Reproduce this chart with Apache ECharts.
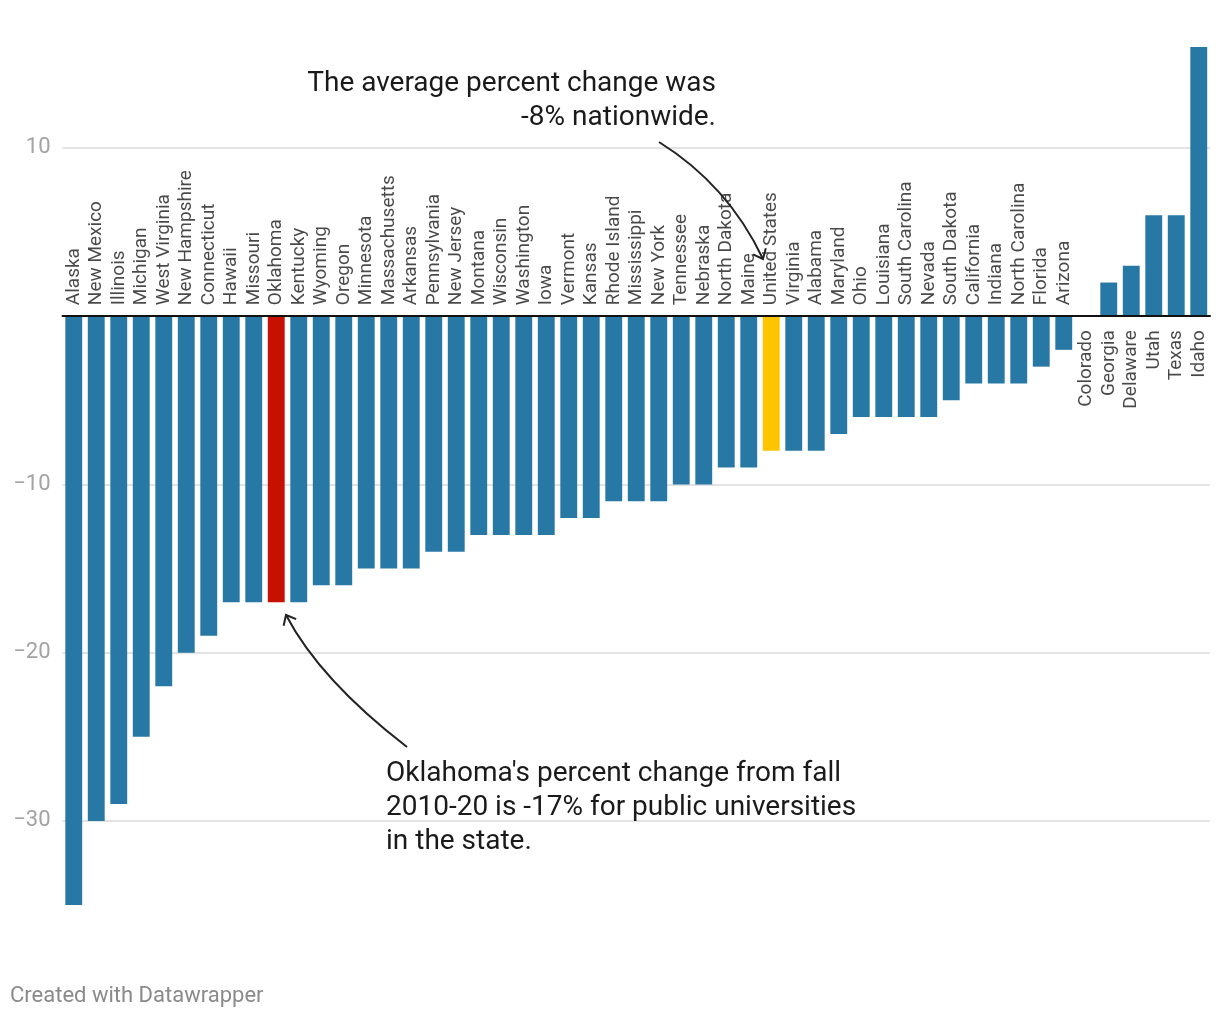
<!DOCTYPE html>
<html>
<head>
<meta charset="utf-8">
<script src="https://cdn.jsdelivr.net/npm/echarts@6/dist/echarts.min.js"></script>
<style>
  html, body { margin: 0; padding: 0; background: #ffffff; }
  #chart { width: 1220px; height: 1020px; }
</style>
</head>
<body>
<div id="chart"></div>
<script>
const categories = ['Alaska','New Mexico','Illinois','Michigan','West Virginia','New Hampshire','Connecticut','Hawaii','Missouri','Oklahoma','Kentucky','Wyoming','Oregon','Minnesota','Massachusetts','Arkansas','Pennsylvania','New Jersey','Montana','Wisconsin','Washington','Iowa','Vermont','Kansas','Rhode Island','Mississippi','New York','Tennessee','Nebraska','North Dakota','Maine','United States','Virginia','Alabama','Maryland','Ohio','Louisiana','South Carolina','Nevada','South Dakota','California','Indiana','North Carolina','Florida','Arizona','Colorado','Georgia','Delaware','Utah','Texas','Idaho'];
const values = [-35,-30,-29,-25,-22,-20,-19,-17,-17,-17,-17,-16,-16,-15,-15,-15,-14,-14,-13,-13,-13,-13,-12,-12,-11,-11,-11,-10,-10,-9,-9,-8,-8,-8,-7,-6,-6,-6,-6,-5,-4,-4,-4,-3,-2,0,2,3,6,6,16];
const yTicks = [10, -10, -20, -30];
const redCategory = 'Oklahoma';
const yellowCategory = 'United States';

const BLUE = '#2878a5', RED = '#c81000', YELLOW = '#ffc400';
const FONT = 'Roboto';

const barData = values.map((v, i) => ({
  value: v,
  itemStyle: { color: categories[i] === redCategory ? RED : (categories[i] === yellowCategory ? YELLOW : BLUE) }
}));

const labelData = values.map((v, i) => {
  const neg = v < 0;
  return {
    value: 0,
    label: neg
      ? { position: 'top', distance: 11, align: 'left', verticalAlign: 'middle' }
      : { position: 'bottom', distance: 14, align: 'right', verticalAlign: 'middle' }
  };
});

const chart = echarts.init(document.getElementById('chart'), null, { renderer: 'canvas' });

function quadArrow(p0, c, p2) {
  const bx = c[0] - p2[0], by = c[1] - p2[1];
  const L = Math.hypot(bx, by);
  const ux = bx / L, uy = by / L;
  const len = 11, ang = 0.7;
  const rot = (a) => [p2[0] + len * (ux * Math.cos(a) - uy * Math.sin(a)), p2[1] + len * (ux * Math.sin(a) + uy * Math.cos(a))];
  return [
    { type: 'bezierCurve', shape: { x1: p0[0], y1: p0[1], cpx1: c[0], cpy1: c[1], x2: p2[0], y2: p2[1] },
      style: { stroke: '#222', lineWidth: 2, fill: null }, z: 10, silent: true },
    { type: 'polyline', shape: { points: [rot(ang), p2, rot(-ang)] },
      style: { stroke: '#222', lineWidth: 2, fill: null }, z: 10, silent: true }
  ];
}

chart.setOption({
  animation: false,
  backgroundColor: '#ffffff',
  textStyle: { fontFamily: FONT },
  grid: { left: 62.5, right: 10, top: 47, bottom: 115, containLabel: false },
  xAxis: {
    type: 'category',
    data: categories,
    z: 5,
    axisLine: { show: true, onZero: true, lineStyle: { color: '#111', width: 2 } },
    axisTick: { show: false },
    axisLabel: { show: false },
    splitLine: { show: false }
  },
  yAxis: {
    type: 'value',
    min: -35,
    max: 16,
    axisLine: { show: false },
    axisTick: { show: false },
    axisLabel: { show: false },
    splitLine: { show: false }
  },
  series: [
    {
      type: 'bar',
      data: barData,
      barCategoryGap: '25%',
      z: 2,
      markLine: {
        silent: true,
        z: 1,
        symbol: ['none', 'none'],
        lineStyle: { color: '#e3e3e3', width: 2, type: 'solid' },
        label: {
          position: 'start',
          distance: 12,
          color: '#a3a3a3',
          fontSize: 22,
          fontFamily: FONT,
          formatter: (p) => String(p.value).replace('-', '\u2212')
        },
        emphasis: { disabled: true },
        data: yTicks.map(t => ({ yAxis: t }))
      }
    },
    {
      type: 'scatter',
      data: labelData,
      symbolSize: 0,
      silent: true,
      z: 3,
      label: {
        show: true,
        rotate: 90,
        fontSize: 19,
        fontFamily: FONT,
        color: '#1a1a1a',
        formatter: (p) => categories[p.dataIndex]
      }
    }
  ],
  graphic: [
    { type: 'text', left: 10, top: 985, silent: true,
      style: { text: 'Created with Datawrapper', font: '22px ' + FONT, fill: '#8a8a8a' } },
    { type: 'text', x: 716, y: 67, silent: true, z: 10,
      style: { text: 'The average percent change was\n-8% nationwide.', font: '28px ' + FONT, fill: '#1a1a1a',
        align: 'right', verticalAlign: 'top', lineHeight: 34 } },
    { type: 'text', x: 386, y: 757, silent: true, z: 10,
      style: { text: "Oklahoma's percent change from fall\n2010-20 is -17% for public universities\nin the state.", font: '28px ' + FONT, fill: '#1a1a1a',
        align: 'left', verticalAlign: 'top', lineHeight: 34 } },
    ...quadArrow([659, 142], [728, 185], [763, 259]),
    ...quadArrow([407, 747], [320, 680], [286, 615])
  ]
});
</script>
</body>
</html>
